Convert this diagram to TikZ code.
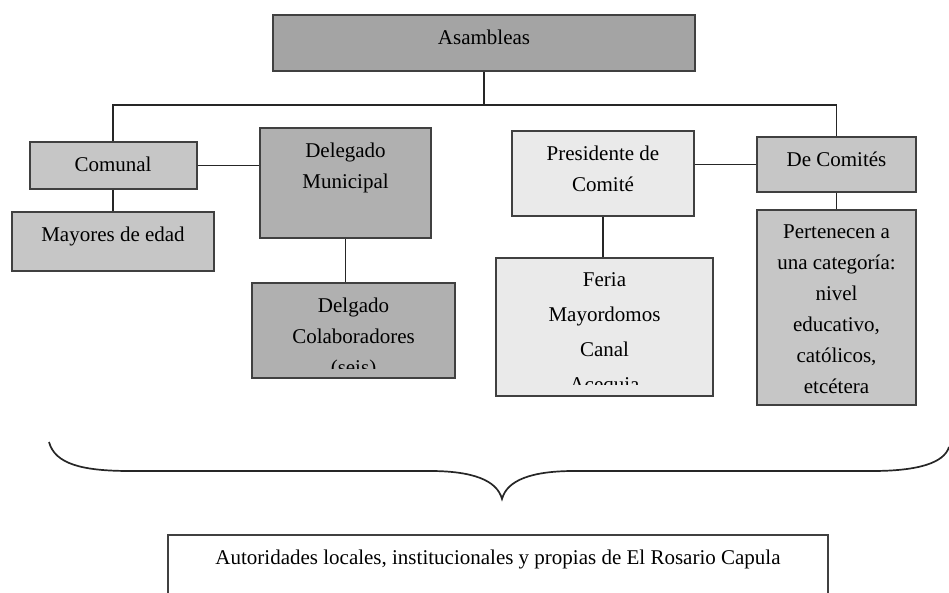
\documentclass[tikz,border=0pt]{standalone}
\usepackage{fontspec}
\setmainfont{Liberation Serif}
\usetikzlibrary{positioning, calc}
\definecolor{grayDark}{RGB}{164,164,164}
\definecolor{grayMid}{RGB}{176,176,176}
\definecolor{grayLight}{RGB}{198,198,198}
\definecolor{grayPale}{RGB}{234,234,234}

\begin{document}
\begin{tikzpicture}[
    x=1pt, y=1pt,
    font=\fontsize{21}{31}\selectfont,
    box/.style={rectangle, draw=black!75, line width=2pt, fill=#1, inner sep=0pt},
    inner/.style={anchor=north, align=center, inner sep=0pt, minimum width=0pt, minimum height=0pt},
    txt/.style={path picture={\node[inner] at ([yshift=-13.5pt]path picture bounding box.north) {#1};}},
    link/.style={draw=black!85, line width=1.7pt}
]
\useasboundingbox (0,0) rectangle (949,592);

% Boxes
\node[box=grayDark, txt={Asambleas}, minimum width=422pt, minimum height=56pt] (asam) at (484,549) {};
\node[box=grayLight, txt={Comunal}, minimum width=167pt, minimum height=47pt] (comunal) at (113,426.5) {};
\node[box=grayLight, txt={Mayores de edad}, minimum width=202pt, minimum height=59pt] (mayores) at (113,350.5) {};
\node[box=grayMid, txt={Delegado\\Municipal}, minimum width=171pt, minimum height=110pt] (deleg) at (345.5,409) {};
\node[box=grayMid, minimum width=203pt, minimum height=95pt,
    path picture={\clip ([yshift=10pt]path picture bounding box.south west) rectangle (path picture bounding box.north east);
    \node[inner] at ([yshift=-13.5pt]path picture bounding box.north) {Delgado\\Colaboradores\\(seis)};}] (colab) at (353.5,261.5) {};
\node[box=grayPale, txt={Presidente de\\Comité}, minimum width=182pt, minimum height=85pt] (pres) at (603,418.5) {};
\node[box=grayPale, minimum width=217pt, minimum height=138pt,
    path picture={\clip ([yshift=12pt]path picture bounding box.south west) rectangle (path picture bounding box.north east);
    \node[inner, font=\fontsize{21}{35}\selectfont] at ([yshift=-13.5pt]path picture bounding box.north) {Feria\\Mayordomos\\Canal\\Acequia};}] (feria) at (604.5,265) {};
\node[box=grayLight, txt={De Comités}, minimum width=159pt, minimum height=55pt] (decom) at (836.5,427.5) {};
\node[box=grayLight, txt={Pertenecen a\\una categoría:\\nivel\\educativo,\\católicos,\\etcétera}, minimum width=159pt, minimum height=195pt] (pert) at (836.5,284.5) {};

% Bottom box
\node[box=white, txt={Autoridades locales, institucionales y propias de El Rosario Capula}, minimum width=660pt, minimum height=90pt, anchor=north] (autor) at (498,58) {};

% Connectors
\coordinate (bus) at (asam.south |- 0,487);
\draw[link] (asam.south) -- (bus);
\draw[link] (comunal.north) |- (bus) -| (decom.north);
\draw[link] (comunal.south) -- (comunal.south |- mayores.north);
\draw[link] (comunal.east) -- (comunal.east -| deleg.west);
\draw[link] (deleg.south) -- (deleg.south |- colab.north);
\draw[link] (pres.south) -- (pres.south |- feria.north);
\draw[link] (decom.west) -- (decom.west -| pres.east);
\draw[link] (decom.south) -- (decom.south |- pert.north);

% Brace
\draw[link] (49,150) .. controls (55,128) and (82,121) .. (130,121) -- (430,121)
    .. controls (472,121) and (497,112) .. (502,93)
    .. controls (507,112) and (532,121) .. (574,121) -- (872,121)
    .. controls (918,121) and (944,129) .. (949,145);
\end{tikzpicture}
\end{document}
